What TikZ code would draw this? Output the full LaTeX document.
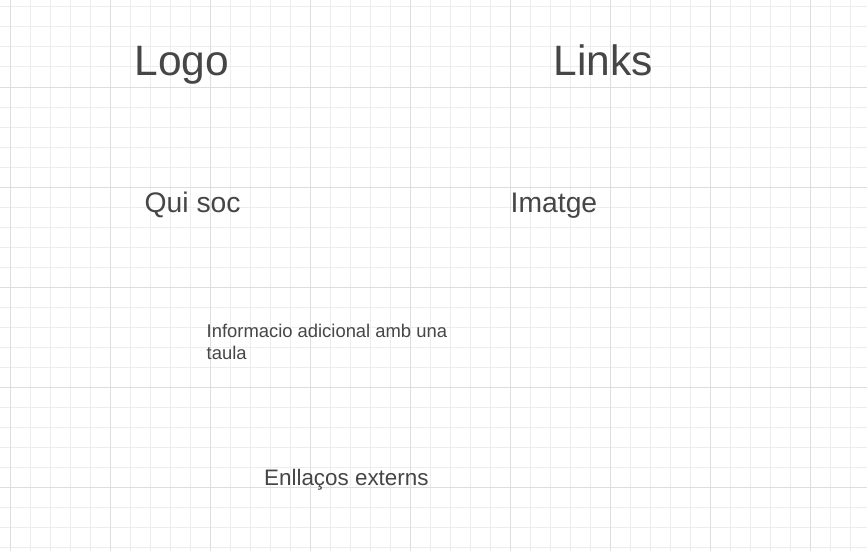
\documentclass[tikz,border=0pt]{standalone}
\usepackage{fontspec}
\setmainfont{Liberation Sans}
\definecolor{minorgrid}{HTML}{EDEDED}
\definecolor{majorgrid}{HTML}{DEDEDE}
\definecolor{txt}{HTML}{464646}
\tikzset{
  lbl/.style={inner sep=0pt, anchor=base west, text=txt, align=left},
  minorline/.style={draw=minorgrid, line width=1pt},
  majorline/.style={draw=majorgrid, line width=1pt}
}
\begin{document}
\begin{tikzpicture}[x=1pt,y=-1pt]
\useasboundingbox (0,0) rectangle (867,551);
\fill[white] (0,0) rectangle (867,551);
% minor grid
\foreach \x in {10,30,...,850} \draw[minorline] (\x,0) -- (\x,551);
\foreach \y in {7,27,...,547} \draw[minorline] (0,\y) -- (867,\y);
% major grid
\foreach \x in {10,110,...,810} \draw[majorline] (\x,0) -- (\x,551);
\foreach \y in {87,187,...,487} \draw[majorline] (0,\y) -- (867,\y);
% texts
\node[lbl, font=\fontsize{42.5}{50}\selectfont] (logo) at (134.5,75.5) {Logo};
\node[lbl, font=\fontsize{42.5}{50}\selectfont] (links) at (553.5,75.5) {Links};
\node[lbl, font=\fontsize{28.3}{34}\selectfont] (qui) at (144.5,212) {Qui soc};
\node[lbl, font=\fontsize{18.4}{22}\selectfont] (info) at (206.5,359) {Informacio adicional amb una\\taula};
\node[lbl, font=\fontsize{28.3}{34}\selectfont] (img) at (510.5,212) {Imatge};
\node[lbl, font=\fontsize{22.4}{26}\selectfont] (enll) at (264,485) {Enllaços externs};
\end{tikzpicture}
\end{document}
